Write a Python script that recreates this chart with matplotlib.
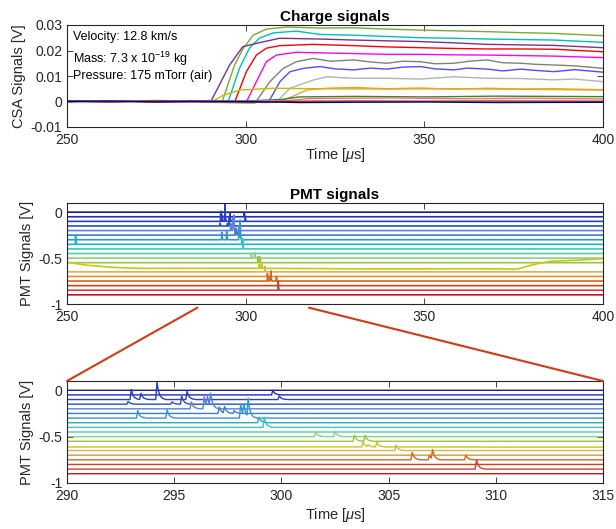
import numpy as np
import matplotlib
matplotlib.use("Agg")
import matplotlib.pyplot as plt
from matplotlib.patches import ConnectionPatch

plt.rcParams['font.family'] = ['Liberation Sans', 'DejaVu Sans']
plt.rcParams['mathtext.fontset'] = 'custom'
plt.rcParams['mathtext.rm'] = 'Liberation Sans'
plt.rcParams['mathtext.it'] = 'Liberation Sans:italic'

# ---------------- Charge (CSA) signals: knots ----------------
csa_colors = ['#77ac30', '#00bfbf', '#7e2f8e', '#ff0000', '#ff00ff', '#808080',
              '#4d4dff', '#b3b3b3', '#bfbf00', '#f0a030', '#2e8b2e', '#ff6f6f',
              '#993300', '#000099']

csa_t_green = [250, 262, 275, 285, 293.5, 296.9, 299.2, 302.1, 305.8, 311.5, 320.8, 330.2, 339.5, 348.9, 358.3, 367.6, 377, 386.3, 400]
csa_v_green = [0.0003, 0.0001, 0.0004, 0.0002, 0.0003, 0.0143, 0.0206, 0.026, 0.0284, 0.0292, 0.0288, 0.0289, 0.0284, 0.028, 0.0277, 0.0274, 0.0270, 0.0267, 0.0258]
csa_t_cyan = [250, 262, 275, 285, 295.1, 298.3, 301.1, 303.9, 307.7, 314.2, 320.8, 330.2, 339.5, 348.9, 358.3, 367.6, 377, 386.3, 400]
csa_v_cyan = [0.0001, 0.0003, -0.0002, 0.0002, 0.0, 0.0131, 0.021, 0.0249, 0.0269, 0.0276, 0.0263, 0.0260, 0.0255, 0.0250, 0.0248, 0.0245, 0.0243, 0.0241, 0.0232]
csa_t_purple = [250, 262, 275, 285, 290.4, 295.5, 299.2, 303.0, 309.5, 320.8, 330.2, 339.5, 348.9, 358.3, 367.6, 377, 386.3, 400]
csa_v_purple = [0.0002, -0.0002, 0.0003, 0.0001, 0.0004, 0.0143, 0.0215, 0.0228, 0.0248, 0.0245, 0.0241, 0.0238, 0.0235, 0.0230, 0.0224, 0.0222, 0.0220, 0.0211]
csa_t_red = [250, 262, 275, 285, 296.9, 300.2, 303.0, 305.8, 309.5, 318.9, 330.2, 339.5, 348.9, 358.3, 367.6, 377, 386.3, 400]
csa_v_red = [0.0001, 0.0002, -0.0001, 0.0003, -0.0003, 0.0117, 0.0182, 0.0209, 0.0219, 0.0224, 0.0219, 0.0214, 0.0211, 0.0208, 0.0206, 0.0206, 0.0205, 0.0195]
csa_t_magenta = [250, 262, 275, 285, 300.2, 303.0, 305.8, 308.6, 314.2, 323.5, 339.5, 348.9, 358.3, 367.6, 377, 386.3, 400]
csa_v_magenta = [-0.0001, 0.0002, 0.0, -0.0003, -0.0002, 0.0078, 0.0156, 0.0182, 0.0193, 0.0190, 0.0185, 0.0185, 0.0183, 0.0182, 0.0180, 0.0178, 0.0172]
csa_t_gray = [250, 262, 275, 285, 302.6, 306.8, 310.5, 314.2, 318.9, 323.7, 330.2, 335, 339.5, 344, 348.9, 353, 358.3, 362, 367.6, 372, 377, 381, 386.3, 392, 400]
csa_v_gray = [0.0002, -0.0001, 0.0002, -0.0002, -0.0006, 0.0078, 0.013, 0.0156, 0.0169, 0.0158, 0.0163, 0.0155, 0.0150, 0.0158, 0.0156, 0.0148, 0.0150, 0.0157, 0.0163, 0.0152, 0.0150, 0.0146, 0.0143, 0.0140, 0.0130]
csa_t_blue = [250, 262, 275, 285, 306.3, 309.6, 312.4, 316.2, 320.8, 325, 330.2, 335, 339.5, 344, 348.9, 353, 358.3, 362, 367.6, 372, 377, 381, 386.3, 392, 400]
csa_v_blue = [0.0001, 0.0003, -0.0002, 0.0001, -0.0004, 0.0078, 0.0117, 0.013, 0.0137, 0.0128, 0.0124, 0.0131, 0.0127, 0.0135, 0.0137, 0.0128, 0.0124, 0.0131, 0.0127, 0.0120, 0.0127, 0.0122, 0.0117, 0.0125, 0.0115]
csa_t_lgray = [250, 262, 275, 285, 308.6, 312.4, 318.9, 322.7, 330.2, 339.5, 348.9, 358.3, 367.6, 377, 386.3, 392, 400]
csa_v_lgray = [0.0, 0.0002, -0.0001, 0.0002, -0.0002, 0.0052, 0.0084, 0.0097, 0.0091, 0.0091, 0.0088, 0.0097, 0.0091, 0.0090, 0.0085, 0.0088, 0.0078]
csa_t_olive = [250, 262, 275, 285, 291.0, 293.8, 298.5, 307.8, 320.8, 339.5, 358.3, 377, 400]
csa_v_olive = [0.0002, 0.0, 0.0003, -0.0001, 0.0003, 0.0025, 0.0045, 0.0052, 0.0050, 0.0049, 0.0050, 0.0048, 0.0045]
csa_t_orange = [250, 262, 275, 285, 300, 309.6, 313.3, 317.1, 322.7, 330.2, 339.5, 348.9, 358.3, 367.6, 377, 386.3, 400]
csa_v_orange = [-0.0001, 0.0002, 0.0, 0.0002, -0.0004, 0.0, 0.0021, 0.0045, 0.0052, 0.0055, 0.0050, 0.0053, 0.0048, 0.0052, 0.0049, 0.0050, 0.0046]
csa_t_dgreen = [250, 262, 275, 285, 300, 310, 315, 330, 350, 370, 400]
csa_v_dgreen = [0.0002, 0.0, 0.0003, 0.0001, 0.0002, 0.0008, 0.0018, 0.0020, 0.0018, 0.0021, 0.0019]
csa_t_pink = [250, 262, 275, 285, 300, 312, 318, 340, 360, 380, 400]
csa_v_pink = [-0.0002, 0.0002, 0.0, 0.0003, 0.0, 0.0004, 0.0012, 0.0014, 0.0011, 0.0013, 0.0010]
csa_t_brown = [250, 262, 275, 285, 300, 315, 330, 350, 370, 400]
csa_v_brown = [0.0001, -0.0002, 0.0002, 0.0, -0.0003, 0.0001, 0.0002, 0.0001, 0.0002, 0.0001]
csa_t_navy = [250, 262, 275, 285, 300, 315, 330, 350, 370, 400]
csa_v_navy = [0.0, 0.0002, -0.0002, 0.0001, 0.0, -0.0004, -0.0003, -0.0002, -0.0004, -0.0003]

csa_traces = [(csa_t_green, csa_v_green), (csa_t_cyan, csa_v_cyan), (csa_t_purple, csa_v_purple),
              (csa_t_red, csa_v_red), (csa_t_magenta, csa_v_magenta), (csa_t_gray, csa_v_gray),
              (csa_t_blue, csa_v_blue), (csa_t_lgray, csa_v_lgray), (csa_t_olive, csa_v_olive),
              (csa_t_orange, csa_v_orange), (csa_t_dgreen, csa_v_dgreen), (csa_t_pink, csa_v_pink),
              (csa_t_brown, csa_v_brown), (csa_t_navy, csa_v_navy)]

# ---------------- PMT signals ----------------
pmt_offsets = [0, -0.05, -0.1, -0.15, -0.2, -0.25, -0.3, -0.35, -0.4, -0.45,
               -0.5, -0.55, -0.6, -0.65, -0.7, -0.75, -0.8, -0.85, -0.9]
pmt_colors = ['#1a1a8c', '#1f2fb8', '#2a3ec8', '#2550c8', '#5a82d8', '#3a7ed0',
              '#3296d2', '#19b4c8', '#3cc8c0', '#5acca0', '#8cd27a', '#96c83c',
              '#c8c814', '#d8b450', '#dc9632', '#d8641e', '#d24614', '#d83c3c', '#c81414']

# pulses: channel index, time [us], height [V]
pulse_ch = [2, 3, 2, 2, 6, 6, 3, 3, 2, 4, 4, 4, 4,
            5, 5, 5, 6, 6, 6, 7, 8, 1, 2,
            10, 10, 11, 11, 12, 12, 12, 13, 15, 15, 15, 15, 17, 7]
pulse_t = [293.0, 292.85, 293.45, 294.2, 293.3, 294.67, 294.9, 295.35, 295.6, 295.8, 296.4, 296.55, 296.7,
           297.1, 297.35, 297.8, 298.1, 298.25, 298.45, 298.95, 299.2, 299.6, 299.9,
           301.6, 302.5, 303.4, 303.9, 303.8, 304.05, 304.45, 305.35, 306.1, 306.9, 307.05, 308.6, 309.1, 252.4]
pulse_h = [0.11, 0.03, 0.067, 0.19, 0.08, 0.09, 0.025, 0.09, 0.09, 0.075, 0.13, 0.11, 0.14,
           0.07, 0.07, 0.03, 0.15, 0.12, 0.195, 0.06, 0.11, 0.05, 0.04,
           0.05, 0.06, 0.065, 0.065, 0.05, 0.02, 0.05, 0.06, 0.08, 0.05, 0.1, 0.05, 0.1, 0.1]

# drifting baseline of the yellow channel (index 12)
drift_t = [250, 255, 262, 270, 290, 300, 320, 340, 360, 376, 380, 385, 392, 400]
drift_v = [-0.545, -0.575, -0.600, -0.612, -0.612, -0.610, -0.615, -0.618, -0.615, -0.620, -0.575, -0.535, -0.525, -0.505]

# pulse template (relative time, relative amplitude)
tmpl_dt = [-0.06, 0.0, 0.06, 0.14, 0.25, 0.4]
tmpl_a = [0.0, 1.0, 0.5, 0.22, 0.07, 0.0]

tgrid = np.arange(250, 400.001, 0.01)


def channel_trace(i):
    if i == 12:
        base = np.interp(tgrid, drift_t, drift_v)
    else:
        base = np.full_like(tgrid, pmt_offsets[i])
    y = base.copy()
    for c, t0, h in zip(pulse_ch, pulse_t, pulse_h):
        if c == i:
            y += h * np.interp(tgrid - t0, tmpl_dt, tmpl_a, left=0, right=0)
    return y


pmt_traces = [channel_trace(i) for i in range(len(pmt_offsets))]

# ---------------- figure ----------------
W, H = 616, 529
fig = plt.figure(figsize=(W / 100, H / 100), dpi=100)


def rect(l, t, r, b):
    return [l / W, 1 - b / H, (r - l) / W, (b - t) / H]


ax1 = fig.add_axes(rect(67, 25, 603, 127))
ax2 = fig.add_axes(rect(67, 203, 603, 304))
ax3 = fig.add_axes(rect(67, 381, 603, 483))

txt_col = '#262626'
tick_fs = 10
lab_fs = 10.5
for ax in (ax1, ax2, ax3):
    ax.tick_params(direction='in', top=True, right=True, length=4, width=0.6,
                   labelsize=tick_fs, color=txt_col, labelcolor=txt_col)
    ax.tick_params(axis='x', pad=4.5)
    ax.tick_params(axis='y', pad=3.5)
    for s in ax.spines.values():
        s.set_linewidth(0.8)
        s.set_color(txt_col)

for (tt, vv), col in zip(csa_traces, csa_colors):
    ax1.plot(tt, vv, color=col, lw=1.0)
ax1.set_xlim(250, 400)
ax1.set_ylim(-0.01, 0.03)
ax1.set_xticks([250, 300, 350, 400])
ax1.set_yticks([-0.01, 0, 0.01, 0.02, 0.03])
ax1.set_yticklabels(['-0.01', '0', '0.01', '0.02', '0.03'])
ax1.set_ylabel('CSA Signals [V]', fontsize=lab_fs, color=txt_col, labelpad=3)
ax1.set_xlabel('Time [$\\mu$s]', fontsize=lab_fs, color=txt_col, labelpad=-1)
ax1.set_title('Charge signals', fontsize=11, fontweight='bold', pad=3)
ann_fs = 9
ax1.text(0.011, 0.88, 'Velocity: 12.8 km/s', transform=ax1.transAxes, fontsize=ann_fs, va='center')
ax1.text(0.011, 0.665, 'Mass: 7.3 x 10$^{-19}$ kg', transform=ax1.transAxes, fontsize=ann_fs, va='center')
ax1.text(0.011, 0.50, 'Pressure: 175 mTorr (air)', transform=ax1.transAxes, fontsize=ann_fs, va='center')

for y, col in zip(pmt_traces, pmt_colors):
    ax2.plot(tgrid, y, color=col, lw=1.2)
    ax3.plot(tgrid, y, color=col, lw=1.0)

ax2.set_xlim(250, 400)
ax2.set_ylim(-1, 0.1)
ax2.set_xticks([250, 300, 350, 400])
ax2.set_yticks([-1, -0.5, 0])
ax2.set_yticklabels(['-1', '-0.5', '0'])
ax2.set_ylabel('PMT Signals [V]', fontsize=lab_fs, color=txt_col, labelpad=3)
ax2.set_title('PMT signals', fontsize=11, fontweight='bold', pad=3)

ax3.set_xlim(290, 315)
ax3.set_ylim(-1, 0.1)
ax3.set_xticks([290, 295, 300, 305, 310, 315])
ax3.set_yticks([-1, -0.5, 0])
ax3.set_yticklabels(['-1', '-0.5', '0'])
ax3.set_ylabel('PMT Signals [V]', fontsize=lab_fs, color=txt_col, labelpad=3)
ax3.set_xlabel('Time [$\\mu$s]', fontsize=lab_fs, color=txt_col, labelpad=2)

zoom_col = '#d33a12'
for (xa, ya), cx in (((286.5, -1.04), 0.0), ((317.7, -1.04), 1.0)):
    con = ConnectionPatch(xyA=(xa, ya), coordsA=ax2.transData,
                          xyB=(cx, 1.0), coordsB=ax3.transAxes,
                          color=zoom_col, lw=1.5)
    fig.add_artist(con)

fig.savefig('out.png', dpi=100)
